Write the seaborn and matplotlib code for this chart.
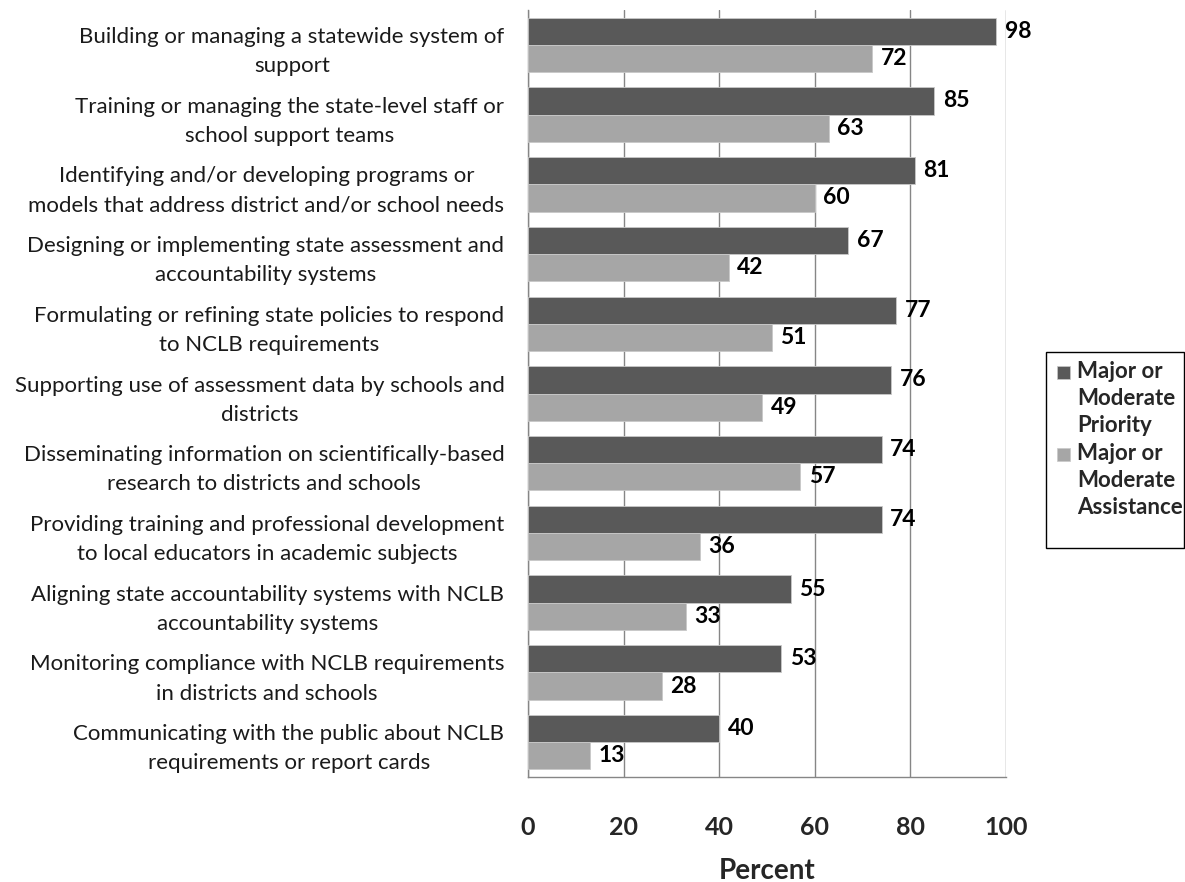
import matplotlib
matplotlib.use("Agg")
import matplotlib.pyplot as plt
from matplotlib.patches import Rectangle
import seaborn as sns
import pandas as pd

categories = [
    "Building or managing a statewide system of\nsupport",
    "Training or managing the state-level staff or\nschool support teams",
    "Identifying and/or developing programs or\nmodels that address district and/or school needs",
    "Designing or implementing state assessment and\naccountability systems",
    "Formulating or refining state policies to respond\nto NCLB requirements",
    "Supporting use of assessment data by schools and\ndistricts",
    "Disseminating information on scientifically-based\nresearch to districts and schools",
    "Providing training and professional development\nto local educators in academic subjects",
    "Aligning state accountability systems with NCLB\naccountability systems",
    "Monitoring compliance with NCLB requirements\nin districts and schools",
    "Communicating with the public about NCLB\nrequirements or report cards",
]
priority = [98, 85, 81, 67, 77, 76, 74, 74, 55, 53, 40]
assistance = [72, 63, 60, 42, 51, 49, 57, 36, 33, 28, 13]
series = ["Major or\nModerate\nPriority", "Major or\nModerate\nAssistance"]
xticks = [0, 20, 40, 60, 80, 100]
colors = ["#595959", "#a6a6a6"]

df = pd.DataFrame({
    "category": categories * 2,
    "value": priority + assistance,
    "series": [series[0]] * len(categories) + [series[1]] * len(categories),
})

sns.set_style("white")
plt.rcParams["font.family"] = ["Lato", "DejaVu Sans"]

W, H = 1185, 882
fig = plt.figure(figsize=(W / 100, H / 100), dpi=100)
ax = fig.add_axes([528 / W, 1 - 777 / H, (1006 - 528) / W, (777 - 10) / H])

palette = dict(zip(series, colors))
sns.barplot(data=df, y="category", x="value", hue="series", order=categories,
            hue_order=series, palette=palette, orient="h", width=0.78,
            edgecolor="#c8c8c8", linewidth=0.6, ax=ax, zorder=3, saturation=1,
            legend=False)

for cont in ax.containers:
    ax.bar_label(cont, fmt="%d", padding=6, fontsize=16.5, fontweight="bold", color="black")

ax.set_xlim(0, 100)
ax.set_ylim(len(categories) - 0.5, -0.5)
ax.set_xticks(xticks)
ax.set_xticklabels([str(t) for t in xticks], fontsize=18, fontweight="bold")
ax.tick_params(axis="x", pad=28, length=0)
ax.tick_params(axis="y", labelsize=16, length=0, pad=17)
for lab in ax.get_yticklabels():
    lab.set_multialignment("center")
    lab.set_linespacing(1.57)
    lab.set_color("#1a1a1a")
ax.set_xlabel("Percent", fontsize=20, fontweight="bold", labelpad=14)
ax.set_ylabel("")
ax.grid(axis="x", color="#868686", linewidth=1, zorder=0)
ax.grid(axis="y", visible=False)
for s in ["top", "right"]:
    ax.spines[s].set_visible(False)
for s in ["left", "bottom"]:
    ax.spines[s].set_color("#868686")
    ax.spines[s].set_linewidth(1)

# legend box drawn in figure pixel coordinates
def fx(px):
    return px / W

def fy(py):
    return 1 - py / H

fig.patches.append(Rectangle((fx(1046), fy(548)), fx(1184) - fx(1046), fy(352) - fy(548),
                             transform=fig.transFigure, facecolor="white",
                             edgecolor="black", linewidth=1))
for i, (lab, col) in enumerate(zip(series, colors)):
    top = 366 + i * 82
    fig.patches.append(Rectangle((fx(1057), fy(top + 13)), fx(13), 13 / H,
                                 transform=fig.transFigure, facecolor=col,
                                 edgecolor="#c8c8c8", linewidth=0.5))
    fig.text(fx(1077), fy(top - 5), lab, fontsize=16, fontweight="bold",
             ha="left", va="top", linespacing=1.36)

fig.savefig("out.png", dpi=100, facecolor="white")
